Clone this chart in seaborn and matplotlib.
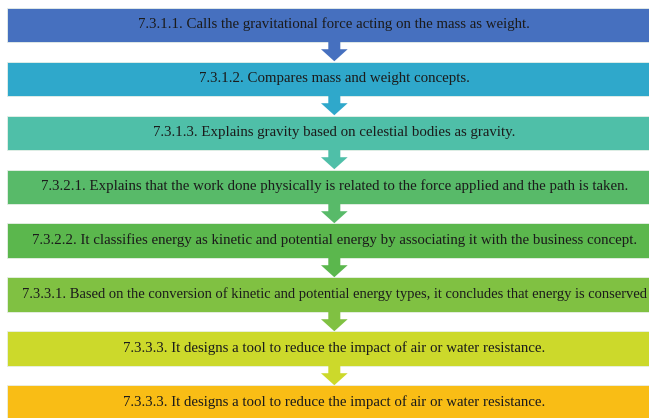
import numpy as np
import pandas as pd
import matplotlib
matplotlib.use("Agg")
import matplotlib.pyplot as plt
import seaborn as sns

# Steps of the flow (top to bottom)
steps = [
    "7.3.1.1. Calls the gravitational force acting on the mass as weight.",
    "7.3.1.2. Compares mass and weight concepts.",
    "7.3.1.3. Explains gravity based on celestial bodies as gravity.",
    "7.3.2.1. Explains that the work done physically is related to the force applied and the path is taken.",
    "7.3.2.2. It classifies energy as kinetic and potential energy by associating it with the business concept.",
    "7.3.3.1. Based on the conversion of kinetic and potential energy types, it concludes that energy is conserved",
    "7.3.3.3. It designs a tool to reduce the impact of air or water resistance.",
    "7.3.3.3. It designs a tool to reduce the impact of air or water resistance.",
]
box_colors = ["#4670BF", "#2FA8CB", "#4FBFA8", "#58BA69", "#5BB74D", "#80C142", "#CCD92B", "#F9BD15"]
box_width = [1] * len(steps)

sns.set_theme(style="white")
plt.rcParams["font.family"] = ["Liberation Serif", "DejaVu Serif"]

fig = plt.figure(figsize=(6.49, 4.18), dpi=100, facecolor="white")
ax = fig.add_axes([0, 0, 1, 1])

df = pd.DataFrame({"step": range(len(steps)), "w": box_width})
sns.barplot(data=df, x="w", y="step", orient="h", hue="step", palette=box_colors,
            saturation=1, legend=False, width=0.63, edgecolor="#e8f0e8", linewidth=0.6, ax=ax)

# x in fractions of a box; boxes run a little past the right edge
ax.set_xlim(-0.011, 0.981)
ax.set_ylim(7.287, -0.454)

renderer = fig.canvas.get_renderer()
fig_w = fig.bbox.width
for i, txt in enumerate(steps):
    t = ax.text(0.5, i, txt, ha="center", va="center", fontsize=10.7, color="#1b1b1b")
    bb = t.get_window_extent(renderer)
    if bb.x1 > fig_w - 1:
        # the long line sits flush with the right edge, as in the figure
        t.set_fontsize(10.45)
        t.set_ha("right")
        t.set_x(ax.transData.inverted().transform((fig_w - 2, 0))[0])

# Down arrows between consecutive boxes
for i in range(len(steps) - 1):
    ax.annotate("", xy=(0.5, i + 1 - 0.32), xytext=(0.5, i + 0.31),
                arrowprops=dict(arrowstyle="simple,head_length=0.72,head_width=1.6,tail_width=0.72",
                                color=box_colors[i], shrinkA=0, shrinkB=0, lw=0))

ax.set_axis_off()
fig.savefig("out.png", dpi=100, facecolor="white")
